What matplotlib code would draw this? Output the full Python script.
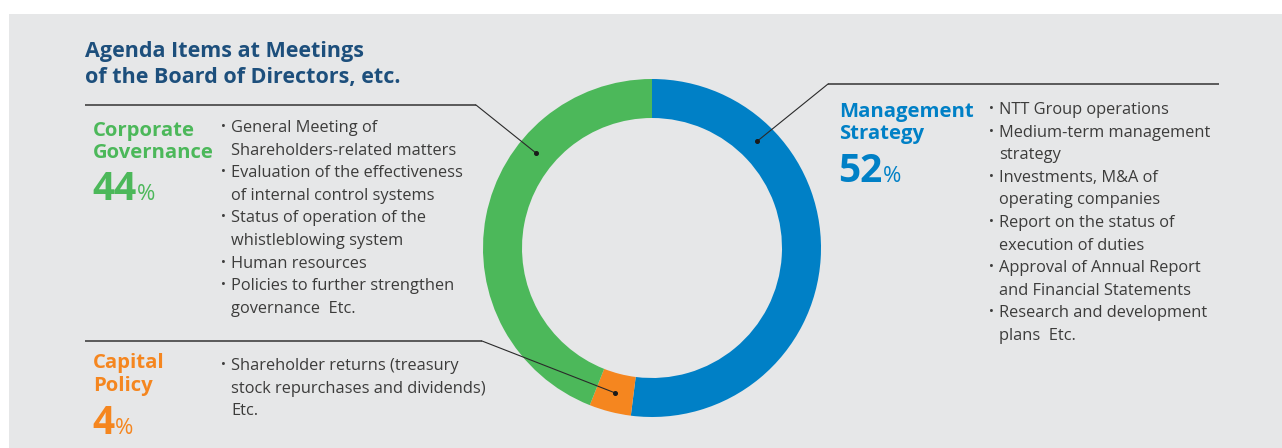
import numpy as np
import matplotlib
matplotlib.use("Agg")
import matplotlib.pyplot as plt
from matplotlib.patches import Rectangle

# ---------------- data ----------------
categories = ["Management\nStrategy", "Capital\nPolicy", "Corporate\nGovernance"]
shares = [52, 4, 44]
colors = ["#0080C6", "#F5861F", "#4CB85A"]

title = "Agenda Items at Meetings\nof the Board of Directors, etc."

mgmt_items = [["NTT Group operations"],
              ["Medium-term management", "strategy"],
              ["Investments, M&A of", "operating companies"],
              ["Report on the status of", "execution of duties"],
              ["Approval of Annual Report", "and Financial Statements"],
              ["Research and development", "plans  Etc."]]
cap_items = [["Shareholder returns (treasury", "stock repurchases and dividends)", "Etc."]]
gov_items = [["General Meeting of", "Shareholders-related matters"],
             ["Evaluation of the effectiveness", "of internal control systems"],
             ["Status of operation of the", "whistleblowing system"],
             ["Human resources"],
             ["Policies to further strengthen", "governance  Etc."]]

# ---------------- figure ----------------
W, H = 1282, 448
FONT = "Open Sans"
TXT = "#3C3C3B"
TITLE_C = "#1D4F7C"
BG = "#E6E7E8"

fig = plt.figure(figsize=(W / 100, H / 100), dpi=100)
fig.patch.set_facecolor("white")
ax = fig.add_axes([0, 0, 1, 1])
ax.add_patch(Rectangle((9, 14), W - 9, H - 14, facecolor=BG, edgecolor="none", zorder=0))

cx, cy, R, ring = 652, 248, 169, 39
wedges, _ = ax.pie(shares, colors=colors, startangle=-90, counterclock=True,
                   center=(cx, cy), radius=R,
                   wedgeprops=dict(width=ring, linewidth=0), frame=True)
ax.set_xlim(0, W)
ax.set_ylim(H, 0)
ax.set_aspect("auto")
ax.axis("off")


def wedge_point(w, frac):
    ang = np.deg2rad(w.theta1 + (w.theta2 - w.theta1) * frac)
    rm = R - ring / 2
    return cx + rm * np.cos(ang), cy + rm * np.sin(ang)


def leader(w, frac, x_end, y_line, x_bend):
    px, py = wedge_point(w, frac)
    ax.plot([x_end, x_bend], [y_line, y_line], color="#5A5A5A", lw=1.4,
            solid_capstyle="butt", zorder=3)
    ax.plot([x_bend, px], [y_line, py], color="#2A2A2A", lw=0.8, zorder=3)
    ax.plot([px], [py], "o", color="#1A1A1A", ms=2.6, zorder=4)


leader(wedges[0], 0.238, 1219, 84, 828)
leader(wedges[1], 0.5, 85, 341, 482)
leader(wedges[2], 0.68, 85, 105, 476)

# title
ax.text(85, 57, title.split("\n")[0], fontsize=15.5, fontweight="bold", family=FONT,
        color=TITLE_C, va="baseline")
ax.text(85, 83, title.split("\n")[1], fontsize=15.5, fontweight="bold", family=FONT,
        color=TITLE_C, va="baseline")


def category_block(x, y0, name, pct, color, off=64):
    l1, l2 = name.split("\n")
    ax.text(x, y0, l1, fontsize=14.6, fontweight="bold", family=FONT, color=color, va="baseline")
    ax.text(x, y0 + 22.5, l2, fontsize=14.6, fontweight="bold", family=FONT, color=color, va="baseline")
    t = ax.text(x - 1, y0 + off, f"{pct}", fontsize=28, fontweight="bold", family=FONT,
                color=color, va="baseline")
    fig.canvas.draw()
    bb = t.get_window_extent()
    ax.text(bb.x1 + 1, y0 + off, "%", fontsize=16, family=FONT, color=color, va="baseline")


def bullets(x, y0, items, step=22.6):
    y = y0
    for item in items:
        ax.text(x - 10, y, "·", fontsize=12, family=FONT, color=TXT, va="baseline",
                fontweight="bold")
        for line in item:
            ax.text(x, y, line, fontsize=11.8, family=FONT, color=TXT, va="baseline")
            y += step


category_block(839, 117, categories[0], shares[0], colors[0], off=65)
category_block(93, 368, categories[1], shares[1], colors[1], off=66)
category_block(93, 136, categories[2], shares[2], colors[2], off=64)

bullets(999, 114, mgmt_items)
bullets(231, 370, cap_items)
bullets(231, 132, gov_items)

fig.savefig("out.png", dpi=100, facecolor="white")
